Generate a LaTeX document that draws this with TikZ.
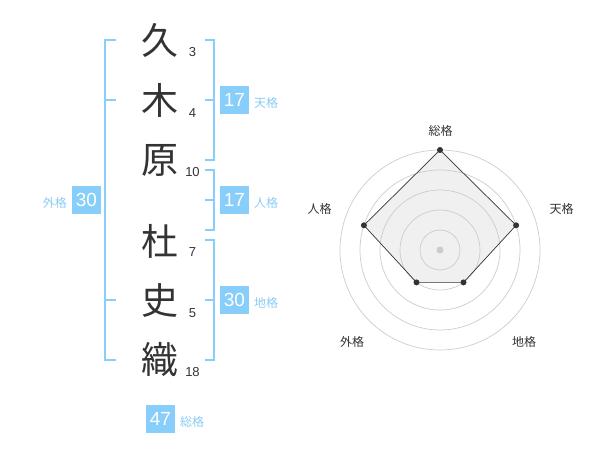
\documentclass[tikz,border=0pt]{standalone}
\usepackage{fontspec}
\setmainfont{Liberation Sans}
\newfontfamily\cjk{Noto Sans CJK JP}
\definecolor{sky}{HTML}{87CEFA}
\definecolor{skytext}{HTML}{8CCBF5}
\definecolor{ink}{HTML}{333333}
\definecolor{ring}{HTML}{CCCCCC}
\definecolor{area}{HTML}{F0F0F0}
\tikzset{
  px/.style={x=1pt,y=-1pt},
  kanji/.style={inner sep=0pt,text=ink,font=\cjk\fontsize{37}{37}\selectfont},
  strokes/.style={inner sep=0pt,text=ink,font=\fontsize{13}{13}\selectfont},
  valbox/.style={fill=sky,text=white,minimum width=29pt,minimum height=28pt,inner sep=0pt,font=\fontsize{19}{19}\selectfont},
  kakulabel/.style={inner sep=0pt,text=skytext,font=\cjk\fontsize{12}{12}\selectfont},
  bracket/.style={draw=sky,line width=2pt},
  ringline/.style={draw=ring,line width=0.7pt},
  radarlabel/.style={inner sep=0pt,text=ink,font=\cjk\fontsize{12}{12}\selectfont},
  vertex/.style={circle,fill=ink,inner sep=0pt,minimum size=6pt},
}
\begin{document}
\begin{tikzpicture}[px]
\useasboundingbox (0,0) rectangle (600,470);
% characters
\node[kanji] (c1) at (160,40) {久};
\node[kanji] (c2) at (160,100) {木};
\node[kanji] (c3) at (160,160) {原};
\node[kanji] (c4) at (160,241) {杜};
\node[kanji] (c5) at (160,301) {史};
\node[kanji] (c6) at (160,360) {織};
% stroke counts
\node[strokes] (n1) at (192.5,52) {3};
\node[strokes] (n2) at (192.5,113) {4};
\node[strokes] (n3) at (192.5,172.5) {10};
\node[strokes] (n4) at (192.5,252) {7};
\node[strokes] (n5) at (192.5,313) {5};
\node[strokes] (n6) at (192.5,372.5) {18};
% brackets
\draw[bracket] (116,40) -- (105,40) -- (105,360) -- (116,360);
\draw[bracket] (105,100) -- (116,100);
\draw[bracket] (105,300) -- (116,300);
\draw[bracket] (205,40) -- (214,40) -- (214,160) -- (205,160);
\draw[bracket] (214,100) -- (205,100);
\draw[bracket] (205,170) -- (214,170) -- (214,230) -- (205,230);
\draw[bracket] (214,200) -- (205,200);
\draw[bracket] (205,240) -- (214,240) -- (214,360) -- (205,360);
\draw[bracket] (214,300) -- (205,300);
% values
\node[valbox] (gai) at (86.5,200) {30};
\node[kakulabel,anchor=east] (gail) at (67,203) {外格};
\node[valbox] (ten) at (234.5,100) {17};
\node[kakulabel,anchor=west] (tenl) at (254,103) {天格};
\node[valbox] (jin) at (234.5,200) {17};
\node[kakulabel,anchor=west] (jinl) at (254,203) {人格};
\node[valbox] (chi) at (234.5,300) {30};
\node[kakulabel,anchor=west] (chil) at (254,303) {地格};
\node[valbox] (sou) at (160.5,419) {47};
\node[kakulabel,anchor=west] (soul) at (180,422) {総格};
% radar
\coordinate (ps) at (440,150);
\coordinate (pt) at (516.1,225.3);
\coordinate (pc) at (463.5,282.4);
\coordinate (pg) at (416.5,282.4);
\coordinate (pj) at (363.9,225.3);
\fill[area] (ps) -- (pt) -- (pc) -- (pg) -- (pj) -- cycle;
\foreach \r in {20,40,60,80,100} \draw[ringline] (440,250) circle[radius=\r];
\fill[ring] (440,250) circle[radius=3.5];
\draw[draw=ink,line width=0.7pt] (ps) -- (pt) -- (pc) -- (pg) -- (pj) -- cycle;
\foreach \p in {ps,pt,pc,pg,pj} \node[vertex] (v\p) at (\p) {};
\node[radarlabel] (rs) at (440.5,130.5) {総格};
\node[radarlabel] (rt) at (561.5,209) {天格};
\node[radarlabel] (rj) at (319.5,209) {人格};
\node[radarlabel] (rg) at (352,342) {外格};
\node[radarlabel] (rc) at (524,342) {地格};
\end{tikzpicture}
\end{document}
